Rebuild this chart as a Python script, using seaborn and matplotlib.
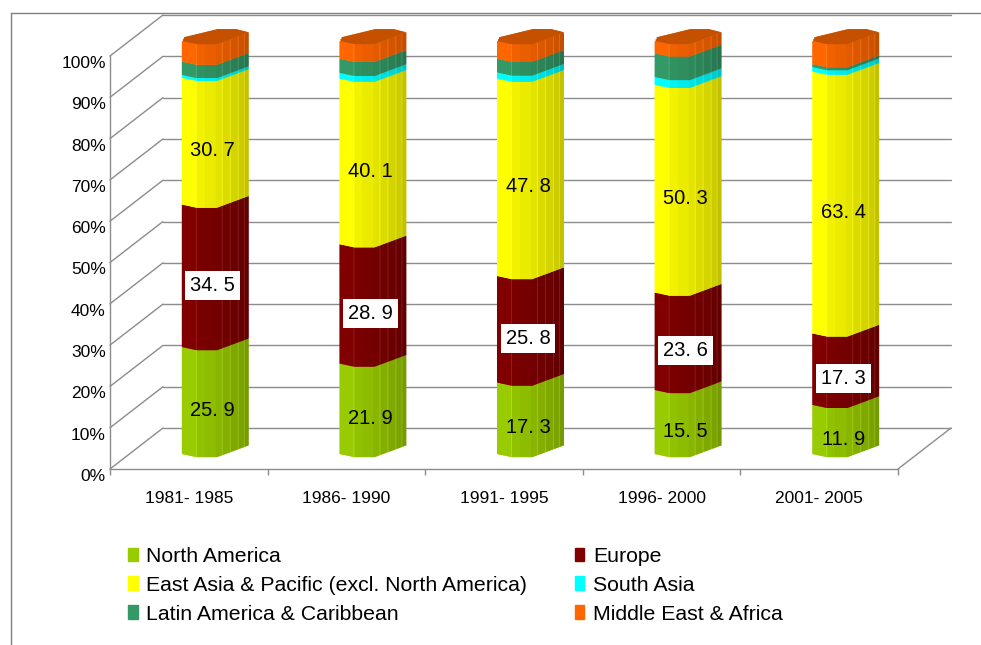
import numpy as np
import pandas as pd
import seaborn as sns
from matplotlib import pyplot as plt
from matplotlib.colors import to_rgb
from matplotlib.lines import Line2D
from matplotlib.patches import Patch

periods = ['1981- 1985', '1986- 1990', '1991- 1995', '1996- 2000', '2001- 2005']
north_america = [25.9, 21.9, 17.3, 15.5, 11.9]
europe = [34.5, 28.9, 25.8, 23.6, 17.3]
east_asia = [30.7, 40.1, 47.8, 50.3, 63.4]
south_asia = [0.7, 1.4, 1.5, 1.9, 1.1]
latin_america = [3.2, 3.4, 3.3, 5.7, 0.7]
middle_east = [5.0, 4.3, 4.3, 3.0, 5.6]

names = ['North America', 'Europe', 'East Asia & Pacific (excl. North America)',
         'South Asia', 'Latin America & Caribbean', 'Middle East & Africa']
values = [north_america, europe, east_asia, south_asia, latin_america, middle_east]
colors = ['#99CC00', '#800000', '#FFFF00', '#00FFFF', '#339966', '#FF6600']
cap_color = '#C45000'
grid_color = '#8C8C8C'

sns.set_theme(style='white')
plt.rcParams['font.family'] = ['Liberation Sans', 'DejaVu Sans']

W, H = 981, 645
fig = plt.figure(figsize=(W / 100, H / 100), dpi=100)
ax = fig.add_axes([110 / W, (H - 469) / H, 788 / W, 413 / H])

PX_X = 1 / 157.6   # one pixel in category units
PX_Y = 100 / 413   # one pixel in percent
depth_x = 53 * PX_X
depth_y = 41 * PX_Y

# pseudo 3d outline of a column, in pixels from its left edge
strip = np.arange(66)
front_drop = np.interp(strip, [0, 14, 34, 65], [0, 3, 3, -8.5])
back_rise = np.interp(strip, [0, 2, 35, 53, 65], [0, 4, 12, 12, 9])
facet_edges = [0, 14, 23, 34, 40, 48, 56, 62, 66]
facet_shade = [1.0, 0.95, 0.92, 0.89, 0.86, 0.83, 0.80, 0.76]
seams = [14, 40, 48, 56, 62]
shade = np.array(facet_shade)[np.searchsorted(facet_edges, strip, side='right') - 1]
seam = np.zeros(strip.size)
seam[seams] = 0.1
base = 3.6  # left edge of the column foot


def draw_strips(bottoms, heights, color, shades, lights):
    xs = np.concatenate([i + (26 - 32 + strip) * PX_X for i in range(len(periods))])
    df = pd.DataFrame({'x': xs, 'h': np.concatenate(heights)})
    sns.barplot(data=df, x='x', y='h', native_scale=True, errorbar=None, width=2,
                bottom=np.concatenate(bottoms), color=color, saturation=1,
                linewidth=0, clip_on=False, ax=ax, zorder=3)
    rgb = np.array(to_rgb(color))
    bars = ax.containers[-1]
    for bar, k, light in zip(bars, np.tile(shades, len(periods)), np.tile(lights, len(periods))):
        bar.set_facecolor(tuple(np.clip(rgb * k + light, 0, 1)))
        bar.set_snap(False)


cum = np.zeros(len(periods))
for name, vals, color in zip(names, values, colors):
    vals = np.array(vals)
    bottoms = [base + c - front_drop * PX_Y for c in cum]
    heights = [np.full(strip.size, v) for v in vals]
    draw_strips(bottoms, heights, color, shade, seam)
    if name in names[:3]:
        boxed = name == 'Europe'
        for i, v in enumerate(vals):
            ax.text(i + 24 * PX_X, cum[i] + v / 2 + 1.3, f'{v:.1f}'.replace('.', '. '),
                    ha='center', va='center', fontsize=14.5, color='black', zorder=5,
                    bbox=dict(fc='white', ec='none', boxstyle='square,pad=0.25') if boxed else None)
    cum = cum + vals

# top of the columns
bottoms = [base + c - front_drop * PX_Y for c in cum]
heights = [(front_drop + back_rise) * PX_Y for _ in cum]
draw_strips(bottoms, heights, cap_color, np.ones(strip.size), np.zeros(strip.size))

# walls
line_kw = dict(color=grid_color, lw=1, clip_on=False, zorder=0.5)
for y in range(0, 101, 10):
    ax.plot([-0.5, -0.5 + depth_x], [y, y + depth_y], **line_kw)
    ax.plot([-0.5 + depth_x, 4.5 + depth_x], [y + depth_y, y + depth_y], **line_kw)
ax.plot([4.5, 4.5 + depth_x], [0, depth_y], **line_kw)

ax.set_xlim(-0.5, 4.5)
ax.set_ylim(0, 100)
ax.set_xlabel('')
ax.set_ylabel('')
ax.set_xticks(range(len(periods)), periods)
ax.set_xticks(np.arange(-0.5, 5), minor=True)
ax.set_yticks(range(0, 101, 10), [f'{y}%' for y in range(0, 101, 10)])
ax.tick_params(axis='x', which='major', length=0, pad=16, labelsize=12.5, labelcolor='black')
ax.tick_params(axis='x', which='minor', bottom=True, length=4.5, width=1, color=grid_color)
ax.tick_params(axis='y', length=0, pad=3, labelsize=12.5, labelcolor='black')
for label in ax.get_yticklabels():
    label.set_va('top')
for side in ['top', 'right']:
    ax.spines[side].set_visible(False)
for side in ['left', 'bottom']:
    ax.spines[side].set_color(grid_color)
    ax.spines[side].set_linewidth(1)

# chart frame
fig.add_artist(Line2D([11 / W, 1], [(H - 12.5) / H] * 2, color='#808080', lw=1))
fig.add_artist(Line2D([11 / W] * 2, [0, (H - 12.5) / H], color='#808080', lw=1))

handles = [Patch(color=c, label=n) for n, c in zip(names, colors)]
order = [0, 2, 4, 1, 3, 5]
ax.legend([handles[i] for i in order], [names[i] for i in order], ncols=2,
          loc='upper left', bbox_to_anchor=(128 / W, (H - 547) / H),
          bbox_transform=fig.transFigure, frameon=False, fontsize=15.3, labelcolor='black',
          handlelength=0.45, handleheight=0.62, handletextpad=0.4,
          labelspacing=0.46, columnspacing=2.25, borderpad=0, borderaxespad=0)

fig.savefig('out.png', dpi=100)
